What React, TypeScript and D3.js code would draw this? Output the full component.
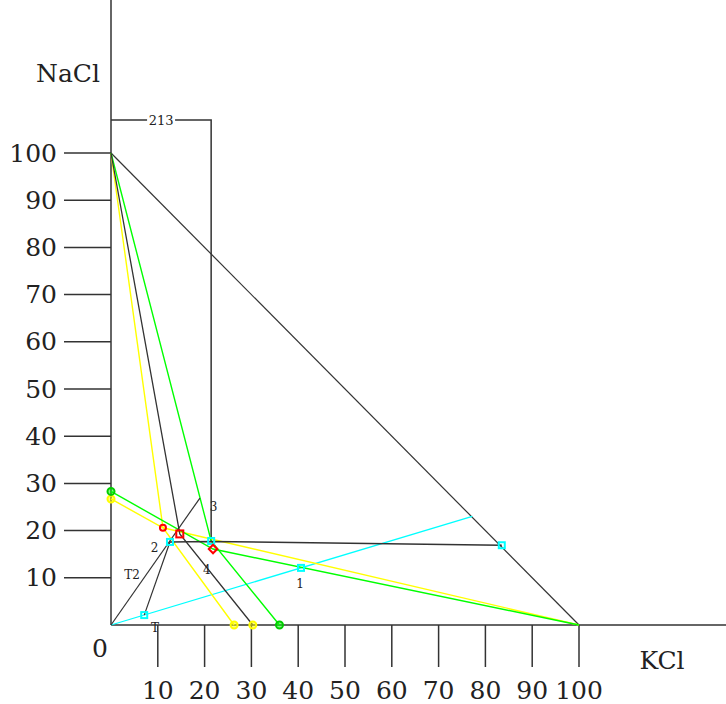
import React from "react";
import * as d3 from "d3";

type P = [number, number];

const xTicks = [10, 20, 30, 40, 50, 60, 70, 80, 90, 100];
const yTicks = [10, 20, 30, 40, 50, 60, 70, 80, 90, 100];

const hypotenuse: P[] = [[0, 100], [100, 0]];
const yellowA: P[] = [[0, 100], [11.1, 20.6], [26.3, 0]];
const yellowB: P[] = [[0, 26.7], [11.1, 20.6], [100, 0]];
const greenA: P[] = [[0, 100], [21.4, 17.8], [36, 0]];
const greenB: P[] = [[0, 28.3], [21.8, 16.1], [100, 0]];
const blackA: P[] = [[0, 100], [14.7, 19.3], [30.3, 0]];
const blackT2: P[] = [[0, 0], [19, 26.9]];
const blackT: P[] = [[7.1, 2.1], [12.6, 17.6]];
const blackH: P[] = [[12.6, 17.6], [21.4, 17.7], [83.5, 16.9]];
const box213: P[] = [[0, 107], [21.4, 107], [21.4, 17.8]];
const cyanLine: P[] = [[0, 0], [77.2, 23]];

const cyanPts: P[] = [[7.1, 2.1], [12.6, 17.6], [21.4, 17.8], [40.6, 12.1], [83.5, 16.9]];
const redCircle: P[] = [[11.1, 20.6]];
const redSquare: P[] = [[14.7, 19.3]];
const redDiamond: P[] = [[21.8, 16.1]];
const yellowPts: P[] = [[0, 26.7], [26.3, 0], [30.3, 0]];
const greenPts: P[] = [[0, 28.3], [36, 0]];

const labelText = ["1", "2", "3", "4", "T2", "T"];
const labelPos: P[] = [[40.4, 8.6], [9.3, 16.3], [21.9, 25.0], [20.5, 11.7], [4.5, 10.6], [9.4, -0.6]];

export default function App() {
  const x = d3.scaleLinear().domain([0, 100]).range([111, 579]);
  const y = d3.scaleLinear().domain([0, 100]).range([625, 153]);
  const line = d3.line<P>().x((d) => x(d[0])).y((d) => y(d[1]));
  const dark = "#333";
  const serif = "'DejaVu Serif', 'Liberation Serif', serif";

  const path = (pts: P[], color: string, w = 1.3) => (
    <path d={line(pts) || ""} fill="none" stroke={color} strokeWidth={w} />
  );

  return (
    <svg
      width={726}
      height={704}
      style={{ position: "absolute", left: 0, top: 0, background: "#fff" }}
    >
      <rect x={0} y={0} width={726} height={704} fill="#fff" />
      {/* axes */}
      <line x1={x(0)} y1={0} x2={x(0)} y2={y(0)} stroke={dark} strokeWidth={1.5} />
      <line x1={x(0)} y1={y(0)} x2={726} y2={y(0)} stroke={dark} strokeWidth={1.5} />
      {yTicks.map((t) => (
        <g key={"y" + t}>
          <line x1={64} x2={x(0)} y1={y(t)} y2={y(t)} stroke={dark} strokeWidth={1.5} />
          <text x={57} y={y(t)} textAnchor="end" dominantBaseline="central" fontFamily={serif} fontSize={25} fill="#222">
            {t}
          </text>
        </g>
      ))}
      {xTicks.map((t) => (
        <g key={"x" + t}>
          <line x1={x(t)} x2={x(t)} y1={y(0)} y2={667} stroke={dark} strokeWidth={1.5} />
          <text x={x(t)} y={690} textAnchor="middle" dominantBaseline="central" fontFamily={serif} fontSize={25} fill="#222">
            {t}
          </text>
        </g>
      ))}
      <text x={100} y={648} textAnchor="middle" dominantBaseline="central" fontFamily={serif} fontSize={25} fill="#222">0</text>
      <text x={68} y={73} textAnchor="middle" dominantBaseline="central" fontFamily={serif} fontSize={25} fill="#222">NaCl</text>
      <text x={662} y={660} textAnchor="middle" dominantBaseline="central" fontFamily={serif} fontSize={25} fill="#222">KCl</text>

      {/* lines */}
      {path(box213, dark, 1.5)}
      <rect x={x(10.7) - 14} y={y(107) - 7} width={28} height={14} fill="#fff" />
      <text x={x(10.7)} y={y(107) + 1} textAnchor="middle" dominantBaseline="central" fontFamily={serif} fontSize={13} fill="#222">213</text>
      {path(hypotenuse, dark, 1.2)}
      {path(cyanLine, "#00ffff", 1.3)}
      {path(yellowA, "#ffff00", 1.4)}
      {path(yellowB, "#ffff00", 1.4)}
      {path(greenA, "#00ff00", 1.4)}
      {path(greenB, "#00ff00", 1.4)}
      {path(blackA, dark, 1.3)}
      {path(blackT2, dark, 1.2)}
      {path(blackT, dark, 1.2)}
      {path(blackH, dark, 1.5)}

      {/* markers */}
      {cyanPts.map((p, i) => (
        <rect key={"c" + i} x={x(p[0]) - 3} y={y(p[1]) - 3} width={6} height={6} fill="none" stroke="#00ffff" strokeWidth={2} />
      ))}
      {redCircle.map((p, i) => (
        <circle key={"rc" + i} cx={x(p[0])} cy={y(p[1])} r={3} fill="none" stroke="#ff0000" strokeWidth={2} />
      ))}
      {redSquare.map((p, i) => (
        <rect key={"rs" + i} x={x(p[0]) - 3.5} y={y(p[1]) - 3.5} width={7} height={7} fill="none" stroke="#ff0000" strokeWidth={2} />
      ))}
      {redDiamond.map((p, i) => (
        <rect key={"rd" + i} x={x(p[0]) - 3} y={y(p[1]) - 3} width={6} height={6} fill="none" stroke="#ff0000" strokeWidth={2} transform={`rotate(45 ${x(p[0])} ${y(p[1])})`} />
      ))}
      {yellowPts.map((p, i) => (
        <circle key={"yp" + i} cx={x(p[0])} cy={y(p[1])} r={3.5} fill="#ffff00" fillOpacity={0.5} stroke="#ffff00" strokeWidth={2} />
      ))}
      {greenPts.map((p, i) => (
        <circle key={"gp" + i} cx={x(p[0])} cy={y(p[1])} r={3.5} fill="#00ff00" fillOpacity={0.5} stroke="#00cc00" strokeWidth={2} />
      ))}

      {/* point labels */}
      {labelText.map((t, i) => (
        <text key={"l" + i} x={x(labelPos[i][0])} y={y(labelPos[i][1])} textAnchor="middle" dominantBaseline="central" fontFamily={serif} fontSize={12} fill="#222">
          {t}
        </text>
      ))}
    </svg>
  );
}
